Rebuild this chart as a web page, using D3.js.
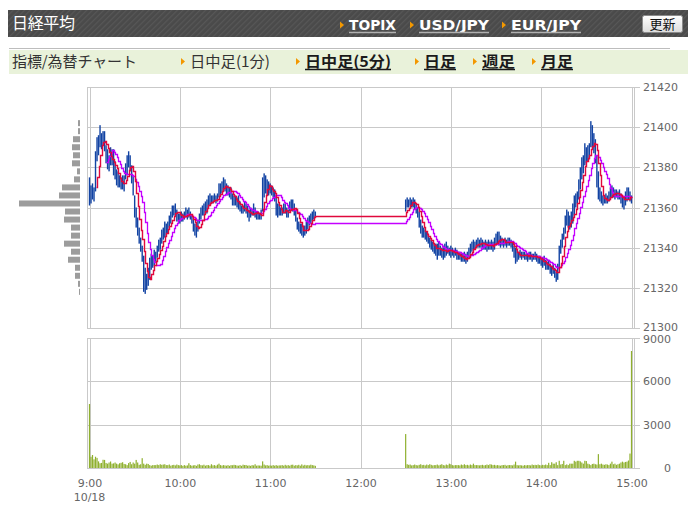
<!DOCTYPE html>
<html><head><meta charset="utf-8">
<script src="https://cdn.jsdelivr.net/npm/d3@7"></script>
<style>body{margin:0;background:#fff}svg{display:block}</style>
</head><body><svg id="c" width="696" height="520"></svg>
<script>
// ---------- DATA ----------
const amHigh = [
21375,21371,21372,21370,21388,21395,21396,21401,21397,21398,
21398,21391,21389,21386,21390,21389,21389,21383,21379,21378,
21376,21375,21376,21376,21382,21386,21388,21386,21381,21376,
21366,21360,21355,21350,21345,21341,21336,21330,21327,21330,
21335,21337,21336,21339,21338,21341,21344,21345,21349,21350,
21353,21352,21353,21356,21358,21361,21361,21362,21359,21357,
21357,21358,21357,21358,21360,21359,21360,21358,21356,21354,
21352,21352,21354,21357,21360,21361,21362,21363,21364,21366,
21367,21366,21366,21367,21366,21367,21372,21372,21373,21375,
21374,21372,21371,21370,21370,21367,21366,21366,21365,21366,
21363,21361,21361,21363,21362,21361,21359,21360,21359,21362,
21360,21358,21358,21357,21359,21375,21377,21376,21374,21373,
21372,21371,21370,21369,21365,21362,21362,21360,21360,21362,
21362,21360,21359,21363,21364,21364,21362,21359,21355,21353,
21352,21352,21351,21351,21353,21355,21356,21357,21358,21359,
21358];
const amLow = [
21361,21362,21364,21363,21368,21383,21386,21390,21389,21391,
21388,21382,21379,21378,21381,21381,21376,21374,21371,21370,
21370,21369,21369,21368,21374,21376,21380,21378,21372,21366,
21355,21350,21346,21342,21338,21333,21318,21317,21319,21321,
21324,21329,21330,21331,21333,21335,21338,21339,21342,21344,
21345,21346,21347,21350,21352,21355,21356,21356,21353,21353,
21352,21353,21353,21354,21355,21354,21355,21354,21352,21348,
21346,21345,21348,21352,21354,21356,21356,21357,21357,21360,
21361,21362,21362,21363,21362,21363,21365,21366,21367,21369,
21368,21366,21366,21365,21364,21361,21361,21361,21360,21359,
21358,21357,21357,21358,21357,21355,21353,21355,21356,21356,
21355,21354,21354,21354,21354,21358,21365,21367,21366,21366,
21367,21366,21365,21363,21356,21355,21356,21356,21356,21357,
21357,21355,21355,21358,21359,21358,21356,21353,21349,21348,
21347,21346,21345,21346,21347,21349,21351,21352,21353,21354,
21355];
const amClose = [
21364,21366,21367,21368,21386,21390,21393,21394,21392,21395,
21391,21385,21384,21382,21386,21384,21378,21377,21374,21372,
21373,21371,21372,21374,21379,21383,21385,21381,21375,21368,
21358,21353,21349,21344,21340,21336,21322,21321,21323,21326,
21331,21333,21332,21335,21336,21339,21342,21341,21347,21348,
21351,21349,21352,21354,21356,21359,21358,21360,21355,21356,
21354,21356,21355,21357,21358,21356,21357,21355,21353,21350,
21348,21347,21352,21355,21357,21359,21360,21361,21362,21364,
21363,21364,21363,21365,21364,21366,21370,21369,21371,21372,
21371,21368,21369,21367,21366,21363,21364,21362,21362,21361,
21360,21358,21359,21360,21358,21357,21355,21357,21358,21360,
21357,21356,21355,21356,21358,21371,21374,21372,21370,21369,
21368,21368,21366,21365,21358,21357,21359,21357,21358,21359,
21360,21357,21356,21361,21362,21361,21358,21355,21351,21350,
21349,21348,21347,21349,21350,21353,21354,21356,21357,21357,
21356];
const pmHigh = [
21364,21365,21364,21365,21364,21365,21364,21362,21360,21358,
21354,21351,21350,21349,21348,21347,21345,21344,21343,21342,
21342,21342,21343,21341,21340,21341,21342,21343,21341,21340,
21341,21340,21339,21340,21339,21338,21338,21337,21337,21338,
21337,21338,21340,21342,21343,21344,21343,21344,21345,21344,
21345,21344,21343,21344,21343,21344,21343,21344,21343,21345,
21347,21348,21348,21346,21345,21344,21345,21344,21345,21345,
21344,21343,21341,21340,21339,21338,21339,21338,21338,21338,
21337,21337,21338,21338,21337,21337,21338,21337,21336,21336,
21335,21335,21336,21334,21333,21334,21332,21331,21332,21330,
21328,21332,21341,21344,21347,21350,21356,21359,21358,21356,
21358,21362,21366,21367,21368,21374,21380,21385,21386,21392,
21390,21391,21392,21403,21401,21397,21394,21386,21378,21370,
21368,21366,21366,21367,21366,21368,21370,21371,21370,21369,
21369,21368,21369,21367,21366,21365,21368,21370,21370,21368,
21366];
const pmLow = [
21358,21360,21360,21361,21360,21360,21359,21357,21355,21350,
21347,21345,21345,21344,21343,21342,21340,21339,21338,21337,
21336,21334,21336,21336,21335,21334,21335,21336,21337,21336,
21335,21336,21335,21336,21334,21334,21334,21333,21333,21333,
21332,21333,21335,21337,21338,21339,21339,21340,21340,21340,
21340,21339,21339,21339,21338,21339,21339,21339,21338,21339,
21341,21342,21341,21340,21341,21340,21341,21340,21341,21341,
21340,21338,21335,21332,21333,21334,21335,21334,21335,21334,
21334,21333,21334,21334,21333,21334,21334,21333,21332,21332,
21331,21330,21331,21329,21329,21329,21327,21326,21327,21325,
21323,21324,21330,21337,21340,21344,21347,21351,21350,21349,
21350,21352,21356,21360,21362,21364,21369,21374,21377,21381,
21382,21383,21384,21390,21390,21387,21382,21370,21364,21363,
21362,21361,21362,21362,21362,21363,21364,21365,21365,21364,
21365,21364,21364,21362,21360,21359,21361,21363,21364,21363,
21362];
const pmClose = [
21362,21363,21362,21364,21362,21363,21361,21359,21357,21352,
21349,21347,21347,21346,21345,21344,21342,21341,21340,21339,
21338,21340,21341,21338,21337,21339,21340,21338,21339,21338,
21339,21337,21337,21338,21336,21336,21335,21335,21334,21335,
21334,21336,21338,21340,21341,21342,21341,21342,21343,21342,
21343,21341,21342,21341,21340,21342,21341,21342,21340,21343,
21345,21346,21344,21343,21343,21342,21343,21342,21344,21343,
21342,21339,21337,21336,21336,21336,21337,21336,21337,21336,
21335,21336,21337,21336,21335,21336,21336,21335,21334,21334,
21333,21332,21333,21331,21331,21330,21329,21328,21330,21327,
21325,21330,21339,21342,21344,21348,21353,21355,21353,21352,
21356,21360,21363,21365,21366,21372,21378,21382,21384,21388,
21384,21386,21388,21399,21396,21391,21385,21373,21367,21365,
21364,21363,21364,21365,21363,21366,21368,21369,21367,21366,
21367,21366,21367,21364,21362,21361,21366,21367,21366,21365,
21363];
const amVolume = [
4430,780,900,600,780,700,460,330,350,570,
560,350,300,380,450,300,320,380,300,250,
330,360,400,280,260,200,340,420,260,380,
300,560,380,220,260,680,300,220,300,280,
200,160,200,200,200,240,200,260,220,240,
260,200,200,240,160,200,220,180,240,200,
180,200,150,200,160,180,330,200,160,180,
200,150,240,260,200,180,230,160,200,200,
160,260,180,200,160,230,300,200,170,200,
180,160,200,150,200,190,220,200,170,160,
200,150,230,200,210,160,180,150,200,180,
260,160,180,170,160,460,240,180,200,160,
180,160,200,160,200,160,180,180,200,160,
220,170,200,160,220,230,160,200,180,220,
160,250,170,220,180,200,180,230,200,180,
150];
const pmVolume = [
2350,260,220,240,180,200,240,200,180,220,
260,200,220,180,240,200,260,220,180,200,
200,240,180,220,260,200,180,240,200,300,
260,200,180,200,200,200,180,240,200,260,
200,220,180,240,200,300,200,200,200,180,
200,220,180,200,240,200,260,240,200,220,
180,200,180,160,200,200,220,160,200,200,
200,180,240,440,200,180,200,180,160,200,
180,200,200,180,240,200,220,200,240,200,
180,220,200,240,200,360,200,400,300,300,
400,200,500,240,280,500,200,250,200,300,
300,300,500,440,500,500,460,380,300,500,
480,300,260,200,280,300,260,240,960,260,
300,240,220,260,240,200,300,440,260,300,
220,260,300,380,440,380,420,440,520,1000,
8100];
const profilePrices = [21402,21398,21394,21390,21386,21382,21378,21374,21370,21366,21362,21358,21354,21350,21346,21342,21338,21334,21330,21326,21322,21318];
const profileVolume = [20,20,70,80,70,80,30,60,180,210,610,150,160,90,90,160,90,120,50,50,20,10];
const priceTicks = [21300,21320,21340,21360,21380,21400,21420];
const volumeTicks = [0,3000,6000,9000];
const hourLabels = ["9:00","10:00","11:00","12:00","13:00","14:00","15:00"];
const dateLabel = "10/18";

// ---------- SETUP ----------
const svg = d3.select("#c");
const T = (h, m) => new Date(2018, 9, 18, h, m);
const amTimes = d3.range(amClose.length).map(i => T(9, i));
const pmTimes = d3.range(pmClose.length).map(i => T(12, 30 + i));
const times = amTimes.concat(pmTimes);
const highs = amHigh.concat(pmHigh), lows = amLow.concat(pmLow), closes = amClose.concat(pmClose);
const vols = amVolume.concat(pmVolume);
const hours = hourLabels.map(s => { const [h, m] = s.split(":"); return T(+h, +m); });

const x = d3.scaleTime().domain([T(9,0), T(15,0)]).range([89.5, 631.5]);
const yP = d3.scaleLinear().domain([21300, 21420]).range([328, 87]);
const yV = d3.scaleLinear().domain([0, 9000]).range([468, 338]);
const xProf = d3.scaleLinear().domain([0, 610]).range([0, 61]);

const defs = svg.append("defs");
const pat = defs.append("pattern").attr("id","hatch").attr("width",4).attr("height",4)
  .attr("patternUnits","userSpaceOnUse").attr("patternTransform","rotate(45)");
pat.append("rect").attr("width",4).attr("height",4).attr("fill","#4a4a4a");
pat.append("rect").attr("width",1.2).attr("height",4).attr("fill","#575757");
const gr = defs.append("linearGradient").attr("id","btn").attr("x1",0).attr("x2",0).attr("y1",0).attr("y2",1);
gr.append("stop").attr("offset","0").attr("stop-color","#ffffff");
gr.append("stop").attr("offset","1").attr("stop-color","#dcdcdc");

const JP = "'Noto Sans CJK JP', sans-serif";

// ---------- HEADER ----------
svg.append("rect").attr("x",8).attr("y",10).attr("width",680).attr("height",27).attr("fill","url(#hatch)");
svg.append("text").attr("x",12).attr("y",29).attr("fill","#fff").attr("font-family",JP)
  .attr("font-size",16).attr("textLength",63).text("日経平均");
const hdrLinks = [{t:"TOPIX",x:349,w:47},{t:"USD/JPY",x:419,w:70},{t:"EUR/JPY",x:511,w:70}];
hdrLinks.forEach(d => {
  svg.append("path").attr("d",`M${d.x-9},21.5 L${d.x-5},25 L${d.x-9},28.5 Z`).attr("fill","#f39800");
  svg.append("text").attr("x",d.x).attr("y",30).attr("fill","#fff").attr("font-family","'DejaVu Sans', sans-serif")
    .attr("font-weight","bold").attr("font-size",14).attr("textLength",d.w).attr("lengthAdjust","spacingAndGlyphs").text(d.t);
  svg.append("line").attr("x1",d.x).attr("x2",d.x+d.w).attr("y1",32.5).attr("y2",32.5).attr("stroke","#b0b0b0").attr("stroke-width",1.5);
});
svg.append("rect").attr("x",642.5).attr("y",15.5).attr("width",40).attr("height",17).attr("rx",2)
  .attr("fill","url(#btn)").attr("stroke","#8a8a8a");
svg.append("text").attr("x",662.5).attr("y",28.5).attr("text-anchor","middle").attr("font-family",JP)
  .attr("font-size",13).attr("fill","#111").text("更新");

// ---------- NAV ----------
svg.append("line").attr("x1",9).attr("x2",670).attr("y1",48.5).attr("y2",48.5).attr("stroke","#bdbdbd").attr("stroke-width",1);
svg.append("rect").attr("x",9).attr("y",50).attr("width",679).attr("height",24).attr("fill","#e9f2da");
svg.append("text").attr("x",12).attr("y",67).attr("fill","#333").attr("font-family",JP).attr("font-size",15)
  .attr("textLength",125).text("指標/為替チャート");
const navItems = [
  {t:"日中足(1分)",x:190,w:80,link:false},
  {t:"日中足(5分)",x:305,w:86,link:true},
  {t:"日足",x:424,w:32,link:true},
  {t:"週足",x:482,w:33,link:true},
  {t:"月足",x:541,w:32,link:true}];
navItems.forEach(d => {
  svg.append("path").attr("d",`M${d.x-9},58 L${d.x-5},61.5 L${d.x-9},65 Z`).attr("fill","#f39800");
  svg.append("text").attr("x",d.x).attr("y",67).attr("fill",d.link?"#1a1a1a":"#333").attr("font-family",JP)
    .attr("font-size",15).attr("font-weight",d.link?"bold":"normal").attr("textLength",d.w)
    .attr("lengthAdjust","spacingAndGlyphs").text(d.t);
  if (d.link) svg.append("line").attr("x1",d.x).attr("x2",d.x+d.w).attr("y1",69.5).attr("y2",69.5)
    .attr("stroke","#1a1a1a").attr("stroke-width",1.5);
});

// ---------- GRIDS & AXES ----------
const gridColor = "#c9c9c9";
function styleAxis(g){
  g.select(".domain").remove();
  g.selectAll("line").attr("stroke",gridColor).attr("shape-rendering","crispEdges");
  g.selectAll("text").attr("fill","#666").attr("font-family","'DejaVu Sans', sans-serif").attr("font-size",11);
}
// price panel
svg.append("g").attr("transform","translate(87,0)")
  .call(d3.axisLeft(yP).tickValues(priceTicks).tickSize(-547).tickFormat("")).call(styleAxis);
svg.append("g").attr("transform","translate(0,328)")
  .call(d3.axisBottom(x).tickValues(hours).tickSize(-241).tickFormat("")).call(styleAxis);
const pa = svg.append("g").attr("transform","translate(634,0)")
  .call(d3.axisRight(yP).tickValues(priceTicks).tickSize(6).tickPadding(3).tickFormat(d3.format("d"))).call(styleAxis);
pa.selectAll("text").filter(d => d === 21300).attr("dy","0.2em");
svg.append("rect").attr("x",87.5).attr("y",87.5).attr("width",547).attr("height",241)
  .attr("fill","none").attr("stroke",gridColor).attr("shape-rendering","crispEdges");

// volume panel
svg.append("g").attr("transform","translate(87,0)")
  .call(d3.axisLeft(yV).tickValues(volumeTicks).tickSize(-547).tickFormat("")).call(styleAxis);
const xa = svg.append("g").attr("transform","translate(0,468)")
  .call(d3.axisBottom(x).tickValues(hours).tickSize(-130).tickPadding(11).tickFormat(d3.timeFormat("%-H:%M"))).call(styleAxis);
const va = svg.append("g").attr("transform","translate(634,0)")
  .call(d3.axisRight(yV).tickValues(volumeTicks).tickSize(6).tickFormat(d3.format("d"))).call(styleAxis);
va.selectAll("text").attr("text-anchor","end").attr("x",37);
va.selectAll("text").filter(d => d === 9000).attr("dy","0.45em");
svg.append("rect").attr("x",87.5).attr("y",338.5).attr("width",547).attr("height",130)
  .attr("fill","none").attr("stroke",gridColor).attr("shape-rendering","crispEdges");
svg.append("text").attr("x",x(T(9,0))).attr("y",501).attr("text-anchor","middle").attr("fill","#666")
  .attr("font-family","'DejaVu Sans', sans-serif").attr("font-size",11).text(dateLabel);

// ---------- VOLUME PROFILE ----------
svg.append("g").selectAll("rect").data(profilePrices).join("rect")
  .attr("x",(d,i)=>80 - xProf(profileVolume[i])).attr("width",(d,i)=>xProf(profileVolume[i]))
  .attr("y",d=>yP(d)-3).attr("height",6).attr("fill","#9c9c9c");

// ---------- PRICE BARS ----------
svg.append("g").selectAll("rect").data(times).join("rect")
  .attr("x",d=>x(d)-0.7).attr("width",1.4)
  .attr("y",(d,i)=>yP(highs[i])).attr("height",(d,i)=>Math.max(1,yP(lows[i])-yP(highs[i])))
  .attr("fill","#1243a3");

// ---------- MOVING AVERAGES ----------
function ma(n){
  const out=[];
  for(let i=n-1;i<closes.length;i++) out.push({t:times[i], v:d3.mean(closes.slice(i-n+1,i+1))});
  return out;
}
const ma5 = ma(5), ma12 = ma(12);
const snapLine = d3.line().x(d=>Math.round(x(d.t))+0.5).y(d=>Math.round(yP(d.v))+0.5).curve(d3.curveStepAfter);
svg.append("path").datum(ma12).attr("fill","none").attr("stroke","#c400ff").attr("stroke-width",1.3)
  .attr("d", snapLine);
svg.append("path").datum(ma5).attr("fill","none").attr("stroke","#e0083c").attr("stroke-width",1.4)
  .attr("d", snapLine);

// ---------- VOLUME BARS ----------
svg.append("g").selectAll("rect").data(times).join("rect")
  .attr("x",d=>x(d)-0.6).attr("width",1.2)
  .attr("y",(d,i)=>yV(vols[i])).attr("height",(d,i)=>yV(0)-yV(vols[i]))
  .attr("fill","#8fb02f");
</script></body></html>
